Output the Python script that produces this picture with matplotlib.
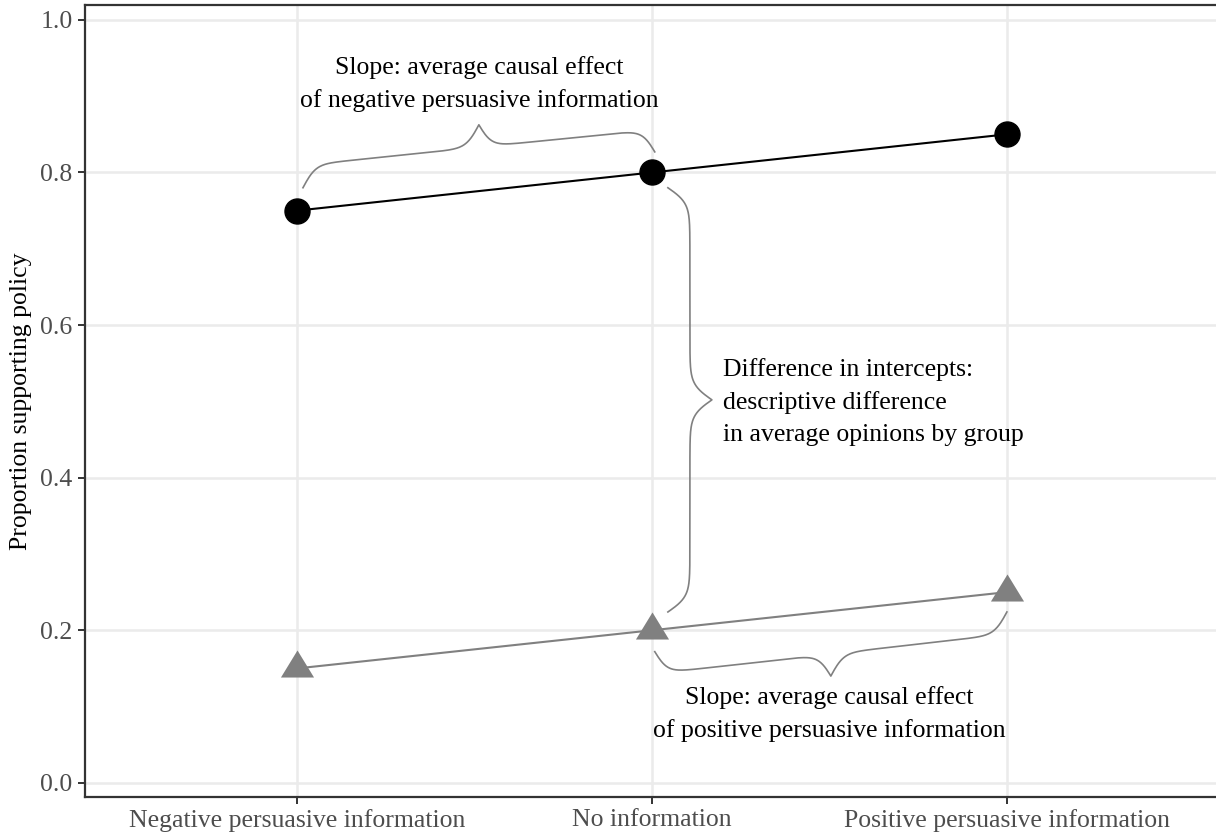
import numpy as np
import matplotlib
matplotlib.use('Agg')
import matplotlib.pyplot as plt

# ── Données ─────────────────────────────────────────────
categories = ['Negative persuasive information', 'No information',
              'Positive persuasive information']
groupe_haut = [0.75, 0.80, 0.85]   # cercles noirs
groupe_bas = [0.15, 0.20, 0.25]    # triangles gris
y_ticks = [0.0, 0.2, 0.4, 0.6, 0.8, 1.0]

texte_pente_neg = 'Slope: average causal effect\nof negative persuasive information'
texte_pente_pos = 'Slope: average causal effect\nof positive persuasive information'
texte_intercept = ('Difference in intercepts:\ndescriptive difference\n'
                   'in average opinions by group')

GRIS = '#808080'
TAILLE = 18.5
plt.rcParams['font.family'] = ['Liberation Serif', 'DejaVu Serif']


def accolade(x0, y0, x1, y1, profondeur, vertical=False, beta=55, n=400):
    """Accolade cisaillée entre (x0,y0) et (x1,y1)."""
    u = np.linspace(0, 0.5, n // 2)
    v = (1 / (1 + np.exp(-beta * (u - u[0])))
         + 1 / (1 + np.exp(-beta * (u - u[-1])))) - 0.5
    v = np.concatenate([v, v[::-1]])
    u = np.concatenate([u, u + 0.5])
    if vertical:
        ys = y0 + (y1 - y0) * u
        xs = x0 + (x1 - x0) * u + profondeur * v
    else:
        xs = x0 + (x1 - x0) * u
        ys = y0 + (y1 - y0) * u + profondeur * v
    return xs, ys


fig = plt.figure(figsize=(12.16, 8.34), dpi=100)
ax = fig.add_axes([85 / 1216, 37 / 834, 1131 / 1216, 792 / 834])

x = np.arange(1, len(categories) + 1)

ax.grid(True, color='#EBEBEB', linewidth=1.8, zorder=0)
ax.set_axisbelow(True)

tri = [(0, 1), (-0.917, -0.5), (0.917, -0.5)]
ax.plot(x, groupe_bas, color=GRIS, linewidth=1.5, zorder=3)
ax.plot(x, groupe_bas, linestyle='none', marker=tri, markersize=26,
        color=GRIS, markeredgewidth=0, zorder=4)
ax.plot(x, groupe_haut, color='black', linewidth=1.5, zorder=3)
ax.plot(x, groupe_haut, linestyle='none', marker='o', markersize=18,
        color='black', zorder=4)

# accolades
bx, by = accolade(1.017, 0.780, 2.008, 0.827, 0.059)
ax.plot(bx, by, color=GRIS, linewidth=1.2, zorder=2)
bx, by = accolade(2.008, 0.172, 3.0, 0.224, -0.058)
ax.plot(bx, by, color=GRIS, linewidth=1.2, zorder=2)
bx, by = accolade(2.045, 0.78, 2.045, 0.224, 0.124, vertical=True)
ax.plot(bx, by, color=GRIS, linewidth=1.2, zorder=2)

ax.text(1.515, 0.916, texte_pente_neg, ha='center', va='center',
        fontsize=TAILLE, linespacing=1.56)
ax.text(2.5, 0.09, texte_pente_pos, ha='center', va='center',
        fontsize=TAILLE, linespacing=1.56)
ax.text(2.2, 0.499, texte_intercept, ha='left', va='center',
        fontsize=TAILLE, linespacing=1.56)

ax.set_xlim(0.403, 3.589)
ax.set_ylim(-0.0185, 1.0195)
ax.set_xticks(x)
ax.set_xticklabels(categories)
ax.set_yticks(y_ticks)
ax.set_yticklabels([f'{t:.1f}' for t in y_ticks])
ax.set_ylabel('Proportion supporting policy', fontsize=TAILLE, labelpad=6)

ax.tick_params(axis='both', colors='#333333', length=5, width=1.4,
               labelsize=TAILLE, labelcolor='#4D4D4D', pad=4)
for side in ['left', 'bottom', 'top']:
    ax.spines[side].set_color('#333333')
    ax.spines[side].set_linewidth(1.6)
ax.spines['right'].set_visible(False)

plt.savefig('out.png', dpi=100)
plt.close()
